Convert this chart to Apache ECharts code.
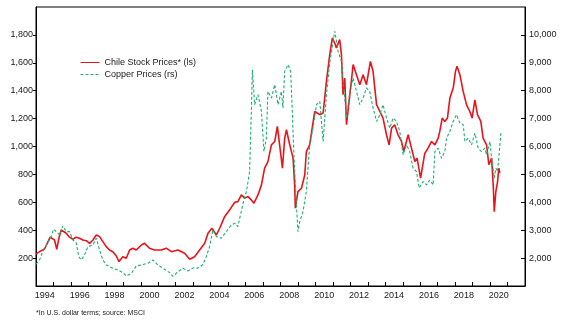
<!DOCTYPE html>
<html>
<head>
<meta charset="utf-8">
<script src="https://cdn.jsdelivr.net/npm/echarts/dist/echarts.min.js"></script>
<style>
  html, body { margin: 0; padding: 0; background: #fff; }
  #chart { width: 567px; height: 322px; }
</style>
</head>
<body>
<div id="chart"></div>
<script>
// MSCI Chile (US$) index, left scale
const chileYears = [
  1994.00, 1994.26, 1994.49, 1994.81, 1995.06, 1995.19, 1995.31, 1995.44, 1995.54, 1995.73,
  1995.92, 1996.11, 1996.30, 1996.49, 1996.68, 1996.88, 1997.07, 1997.26, 1997.45, 1997.64,
  1997.83, 1998.02, 1998.21, 1998.40, 1998.60, 1998.75, 1998.97, 1999.17, 1999.36, 1999.55,
  1999.74, 2000.03, 2000.22, 2000.50, 2000.79, 2001.17, 2001.46, 2001.75, 2002.13, 2002.51,
  2002.80, 2003.08, 2003.37, 2003.66, 2003.85, 2004.07, 2004.33, 2004.52, 2004.80, 2005.09,
  2005.38, 2005.56, 2005.76, 2005.95, 2006.14, 2006.33, 2006.48, 2006.71, 2006.91, 2007.09,
  2007.28, 2007.48, 2007.67, 2007.82, 2007.95, 2008.11, 2008.24, 2008.34, 2008.53, 2008.72,
  2008.81, 2008.85, 2009.00, 2009.20, 2009.39, 2009.48, 2009.67, 2009.96, 2010.25, 2010.44,
  2010.63, 2010.82, 2010.97, 2011.11, 2011.20, 2011.39, 2011.49, 2011.58, 2011.68, 2011.78,
  2011.97, 2012.16, 2012.35, 2012.54, 2012.73, 2012.92, 2013.15, 2013.30, 2013.50, 2013.69,
  2013.87, 2014.07, 2014.22, 2014.36, 2014.54, 2014.73, 2014.93, 2015.06, 2015.31, 2015.50,
  2015.69, 2015.82, 2016.02, 2016.26, 2016.45, 2016.65, 2016.84, 2017.03, 2017.12, 2017.26,
  2017.41, 2017.56, 2017.70, 2017.89, 2018.02, 2018.11, 2018.27, 2018.46, 2018.65, 2018.84,
  2018.97, 2019.13, 2019.28, 2019.47, 2019.60, 2019.80, 2019.93, 2020.09, 2020.18, 2020.24,
  2020.33, 2020.43, 2020.50, 2020.56
];
const chileValues = [
  230, 250, 265, 350, 330, 263, 342, 402, 407, 378,
  350, 335, 350, 342, 330, 325, 306, 330, 366, 354,
  318, 282, 258, 246, 215, 175, 210, 199, 258, 271,
  258, 294, 306, 271, 258, 258, 271, 246, 258, 235,
  192, 210, 258, 306, 378, 414, 366, 414, 497, 546,
  600, 605, 653, 630, 641, 617, 594, 653, 725, 845,
  892, 1012, 1036, 1144, 1012, 845, 1060, 1120, 1012, 917,
  725, 558, 677, 701, 797, 964, 1012, 1251, 1228, 1240,
  1467, 1659, 1778, 1740, 1707, 1766, 1659, 1371, 1491, 1156,
  1371, 1587, 1515, 1443, 1515, 1443, 1610, 1539, 1300, 1251,
  1204, 1084, 1012, 1132, 1156, 1084, 1036, 964, 1084, 988,
  892, 917, 773, 950, 988, 1036, 1012, 1060, 1108, 1204,
  1180, 1204, 1348, 1419, 1539, 1575, 1515, 1395, 1300, 1251,
  1204, 1335, 1228, 1180, 1060, 1012, 869, 917, 725, 533,
  677, 749, 845, 811
];

// Copper price (US$/tonne), right scale
const copperYears = [
  1994.00, 1994.20, 1994.39, 1994.49, 1994.68, 1994.87, 1995.00, 1995.16, 1995.35, 1995.54,
  1995.73, 1995.92, 1996.11, 1996.30, 1996.45, 1996.59, 1996.78, 1996.97, 1997.26, 1997.45,
  1997.64, 1997.83, 1998.02, 1998.11, 1998.40, 1998.69, 1998.97, 1999.17, 1999.46, 1999.74,
  2000.03, 2000.41, 2000.69, 2000.98, 2001.27, 2001.65, 2001.84, 2002.13, 2002.41, 2002.70,
  2002.99, 2003.27, 2003.56, 2003.75, 2003.94, 2004.13, 2004.33, 2004.61, 2004.90, 2005.19,
  2005.38, 2005.56, 2005.76, 2005.95, 2006.05, 2006.23, 2006.33, 2006.39, 2006.52, 2006.71,
  2006.91, 2007.05, 2007.19, 2007.28, 2007.48, 2007.67, 2007.86, 2008.05, 2008.14, 2008.24,
  2008.43, 2008.58, 2008.66, 2008.77, 2008.91, 2009.00, 2009.10, 2009.29, 2009.48, 2009.67,
  2009.86, 2010.06, 2010.25, 2010.44, 2010.63, 2010.82, 2011.01, 2011.11, 2011.30, 2011.49,
  2011.68, 2011.78, 2011.97, 2012.16, 2012.35, 2012.54, 2012.73, 2012.92, 2013.11, 2013.30,
  2013.50, 2013.69, 2013.87, 2014.07, 2014.26, 2014.45, 2014.64, 2014.83, 2015.02, 2015.21,
  2015.40, 2015.59, 2015.79, 2015.94, 2016.17, 2016.36, 2016.55, 2016.74, 2016.84, 2017.03,
  2017.22, 2017.41, 2017.51, 2017.70, 2017.89, 2018.08, 2018.27, 2018.46, 2018.56, 2018.75,
  2018.94, 2019.13, 2019.32, 2019.51, 2019.70, 2019.80, 2019.99, 2020.09, 2020.24, 2020.33,
  2020.43, 2020.62
];
const copperValues = [
  1780, 1933, 2231, 2353, 2560, 2770, 3035, 2950, 2830, 3154,
  2950, 2950, 2650, 2550, 2050, 1933, 2113, 2410, 2470, 2712,
  2290, 1930, 1754, 1690, 1635, 1575, 1480, 1360, 1455, 1720,
  1754, 1815, 1933, 1754, 1635, 1480, 1345, 1513, 1635, 1540,
  1650, 1640, 1770, 2052, 2410, 3010, 2770, 2710, 2950, 3190,
  3250, 3130, 3700, 4200, 4385, 5100, 7257, 8754, 7500, 7857,
  7257, 5820, 6300, 7977, 7738, 8216, 7500, 7977, 7380, 8694,
  8934, 8694, 7500, 5703, 3908, 2950, 3310, 3667, 4385, 6060,
  6660, 7500, 7617, 6180, 7857, 9000, 9770, 10130, 9410, 9050,
  7738, 7020, 7977, 8456, 7977, 7500, 7738, 8097, 7977, 7380,
  6900, 7140, 7500, 7020, 6660, 7020, 6900, 6540, 5703, 6060,
  5820, 5225, 5100, 4510, 4745, 4625, 4800, 4625, 5820, 5940,
  5580, 5820, 6300, 6540, 6900, 7140, 6840, 6780, 6180, 6300,
  6060, 6480, 5940, 5820, 5940, 5700, 6180, 5580, 4866, 5225,
  5100, 6480
];

// Year labels sit in the middle of each yearly band
const yearLabels = [
  '1994', '1995', '1996', '1997', '1998', '1999', '2000', '2001', '2002', '2003',
  '2004', '2005', '2006', '2007', '2008', '2009', '2010', '2011', '2012', '2013',
  '2014', '2015', '2016', '2017', '2018', '2019', '2020', '2021'
];
const leftRange = [0, 2000, 200];
const rightRange = [1000, 11000, 1000];

const FONT = '"Liberation Sans", Arial, sans-serif';
const INK = '#1a1a1a';
const RED = '#e8141b';
const GREEN = '#1fb070';

const toPairs = (xs, ys) => xs.map((x, i) => [x, ys[i]]);
const withComma = v => v.toLocaleString('en-US');

const chart = echarts.init(document.getElementById('chart'), null, { renderer: 'canvas' });
chart.setOption({
  animation: false,
  backgroundColor: '#fff',
  textStyle: { fontFamily: FONT },
  grid: {
    left: 36, right: 42, top: 7, bottom: 36,
    show: true, borderColor: '#000', borderWidth: 1, backgroundColor: 'transparent'
  },
  legend: {
    orient: 'vertical',
    left: 80, top: 58,
    itemWidth: 19, itemHeight: 8, itemGap: 3,
    padding: 0,
    itemStyle: { opacity: 0, borderWidth: 0 },
    lineStyle: { width: 1 },
    textStyle: { fontFamily: FONT, fontSize: 9, color: INK },
    data: ['Chile Stock Prices* (ls)', 'Copper Prices (rs)']
  },
  xAxis: [
    {
      type: 'value',
      min: yearLabels[0] * 1, max: yearLabels[yearLabels.length - 1] * 1 + 1, interval: 1,
      axisLine: { show: true, lineStyle: { color: '#000', width: 1 } },
      axisTick: { show: true, inside: true, length: 4, lineStyle: { color: '#000' } },
      axisLabel: { show: false },
      splitLine: { show: false }
    },
    {
      type: 'category',
      data: yearLabels,
      boundaryGap: true,
      position: 'bottom',
      axisLine: { show: false },
      axisTick: { show: false },
      axisLabel: { interval: 1, fontFamily: FONT, fontSize: 9, color: INK, margin: 5 },
      splitLine: { show: false }
    }
  ],
  yAxis: [
    {
      type: 'value',
      min: leftRange[0], max: leftRange[1], interval: leftRange[2],
      axisLine: { show: true, lineStyle: { color: '#000' } },
      axisTick: { show: true, inside: false, length: 3, lineStyle: { color: '#000' } },
      axisLabel: { showMinLabel: false, showMaxLabel: false, fontFamily: FONT, fontSize: 9, color: INK, margin: 3, formatter: withComma },
      splitLine: { show: false }
    },
    {
      type: 'value',
      position: 'right',
      min: rightRange[0], max: rightRange[1], interval: rightRange[2],
      axisLine: { show: true, lineStyle: { color: '#000' } },
      axisTick: { show: true, inside: true, length: 4, lineStyle: { color: '#000' } },
      axisLabel: { showMinLabel: false, showMaxLabel: false, fontFamily: FONT, fontSize: 9, color: INK, margin: 4, formatter: withComma },
      splitLine: { show: false }
    }
  ],
  series: [
    {
      name: 'Chile Stock Prices* (ls)',
      type: 'line',
      xAxisIndex: 0, yAxisIndex: 0,
      data: toPairs(chileYears, chileValues),
      showSymbol: false, symbol: 'none',
      lineStyle: { color: RED, width: 1.6 },
      itemStyle: { color: RED }
    },
    {
      name: 'Copper Prices (rs)',
      type: 'line',
      xAxisIndex: 0, yAxisIndex: 1,
      data: toPairs(copperYears, copperValues),
      showSymbol: false, symbol: 'none',
      lineStyle: { color: GREEN, width: 1.1, type: [3, 2] },
      itemStyle: { color: GREEN }
    }
  ],
  graphic: [
    {
      type: 'text',
      left: 36, top: 310,
      style: { text: '*In U.S. dollar terms; source: MSCI', fontFamily: FONT, fontSize: 7, fill: INK }
    }
  ]
});
</script>
</body>
</html>
